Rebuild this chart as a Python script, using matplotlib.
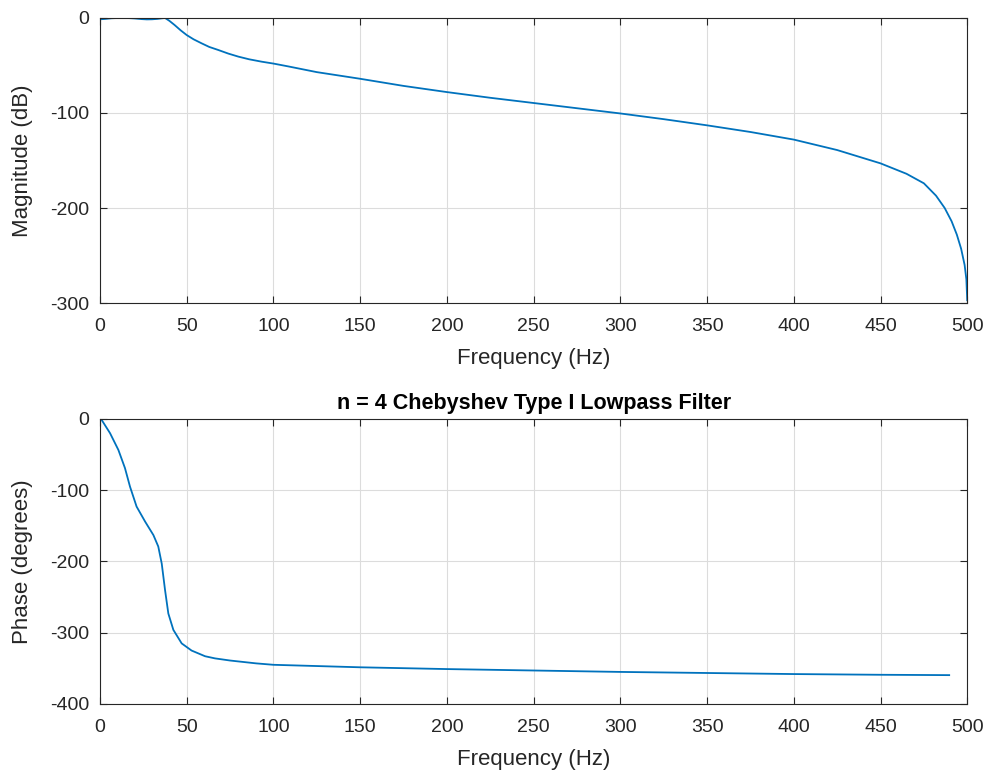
import matplotlib.pyplot as plt

plt.rcParams["font.family"] = ["Liberation Sans", "DejaVu Sans"]
plt.rcParams["axes.unicode_minus"] = False

# Magnitude response
mag_freq = [0, 3, 6.7, 11, 15.4, 20, 24, 27, 30, 33, 35.5, 37.5, 40, 43, 46.5,
            50, 54, 58.6, 63, 68.2, 74, 79.8, 86, 93.2, 100, 108.6, 125, 150,
            175, 200, 225, 250, 275, 300, 325, 350, 375, 400, 425, 450, 465,
            475, 482, 487, 491, 494, 496.5, 498.5, 499.5, 500]
mag_db = [-1.4, -1.0, -0.3, 0, 0, -0.5, -1.2, -1.5, -1.4, -1.0, -0.4, 0, -3,
          -7.4, -13, -18, -22.5, -26.7, -30.5, -33.7, -37.5, -40.7, -43.5,
          -46, -48, -51, -57, -64, -71.5, -78, -84, -89.5, -95, -100.5, -106.5,
          -113, -120, -128, -139, -153, -164, -174, -187, -200, -214, -228,
          -243, -260, -275, -297]

# Phase response
ph_freq = [0, 0.6, 5.8, 10.6, 14.4, 17.3, 21.1, 26, 30.8, 33.6, 35.6, 37.5,
           39.4, 42.3, 47.1, 52.8, 60.6, 66.3, 75, 90, 100, 150, 200, 250,
           300, 350, 400, 450, 489.6]
ph_deg = [0, 0, -20, -43.5, -69, -95, -123, -144, -163, -179, -203, -240,
          -273, -296, -315, -325, -333, -336, -339, -343, -345, -348.5, -351,
          -353, -355, -356.5, -358, -359, -359.5]

line_color = "#0072BD"
axis_color = "#262626"

fig = plt.figure(figsize=(9.9, 7.81), dpi=100)
ax1 = fig.add_axes([0.101, 0.612, 0.876, 0.365])
ax2 = fig.add_axes([0.101, 0.0986, 0.876, 0.365])

ax1.plot(mag_freq, mag_db, color=line_color, linewidth=1.3)
ax1.set_xlim(0, 500)
ax1.set_ylim(-300, 0)
ax1.set_yticks([-300, -200, -100, 0])
ax1.set_xlabel("Frequency (Hz)", labelpad=9)
ax1.set_ylabel("Magnitude (dB)", labelpad=12)

ax2.plot(ph_freq, ph_deg, color=line_color, linewidth=1.3)
ax2.set_xlim(0, 500)
ax2.set_ylim(-400, 0)
ax2.set_yticks([-400, -300, -200, -100, 0])
ax2.set_xlabel("Frequency (Hz)", labelpad=9)
ax2.set_ylabel("Phase (degrees)", labelpad=12)
ax2.set_title("n = 4 Chebyshev Type I Lowpass Filter", fontweight="bold",
              fontsize=15.5, pad=7)

for ax in (ax1, ax2):
    ax.set_xticks(range(0, 501, 50))
    ax.grid(True, color="#dcdcdc", linewidth=0.8)
    ax.set_axisbelow(True)
    ax.tick_params(direction="in", top=True, right=True, labelsize=14,
                   colors=axis_color, length=5)
    ax.tick_params(axis="x", pad=11)
    ax.tick_params(axis="y", pad=8)
    ax.xaxis.label.set_size(16)
    ax.yaxis.label.set_size(16)
    ax.xaxis.label.set_color(axis_color)
    ax.yaxis.label.set_color(axis_color)
    for s in ax.spines.values():
        s.set_color(axis_color)
        s.set_linewidth(0.8)

fig.savefig("out.png", dpi=100)
